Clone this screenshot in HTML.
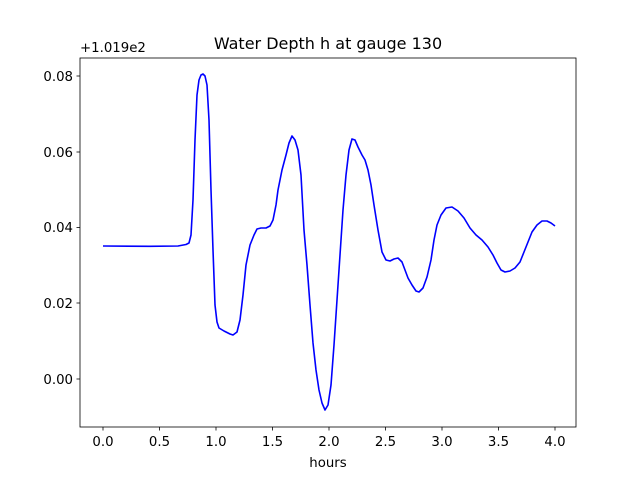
<!DOCTYPE html>
<html><head><meta charset="utf-8"><style>body{margin:0;background:#fff}svg{display:block}text{font-family:"DejaVu Sans","Liberation Sans",sans-serif;font-size:13.3px;fill:#000}</style></head>
<body>
<svg width="640" height="480" xmlns="http://www.w3.org/2000/svg">
<rect width="640" height="480" fill="#fff"/>
<polyline fill="none" stroke="#0000ff" stroke-width="1.6" stroke-linejoin="round" points="103,246 150,246.3 178,246 186,244.5 189,243 191,235 193,200 195,140 197,95 199,80 201,75 203,74 205,76 207,85 209,120 211,190 213,250 215,305 217,322 219,328 224,331 230,334 233,335 237,332 240,320 243,295 246,265 250,245 254,235 257,229 261,228 266,228 270,226 273,220 276,205 278,190 282,170 286,155 289,143 292,136 295,140 298,150 301,175 304,230 307,265 310,305 313,343 316,370 319,390 322,403 325,410 328,405 331,385 334,345 337,300 340,255 343,210 346,175 349,150 352,139 355,140 358,147 362,155 365,160 368,170 371,185 374,205 378,230 382,252 386,260 390,261 394,259 398,258 402,262 405,270 408,278 412,285 416,291 419,292 423,288 427,277 431,260 434,240 437,225 441,215 446,208 452,207 458,211 464,218 470,228 476,235 482,240 488,247 493,255 497,263 501,270 505,272 510,271 515,268 520,262 524,252 528,242 532,232 537,225 542,221 547,221 551,223 555,226"/>
<rect x="80" y="58" width="496" height="369" fill="none" stroke="#000" stroke-width="0.8"/>
<g stroke="#000" stroke-width="0.8">
<line x1="103" y1="427" x2="103" y2="430.5"/><line x1="159.5" y1="427" x2="159.5" y2="430.5"/><line x1="216" y1="427" x2="216" y2="430.5"/><line x1="272.5" y1="427" x2="272.5" y2="430.5"/><line x1="329" y1="427" x2="329" y2="430.5"/><line x1="385.5" y1="427" x2="385.5" y2="430.5"/><line x1="442" y1="427" x2="442" y2="430.5"/><line x1="498.5" y1="427" x2="498.5" y2="430.5"/><line x1="555" y1="427" x2="555" y2="430.5"/>
<line x1="76.5" y1="76" x2="80" y2="76"/><line x1="76.5" y1="152" x2="80" y2="152"/><line x1="76.5" y1="227.5" x2="80" y2="227.5"/><line x1="76.5" y1="303" x2="80" y2="303"/><line x1="76.5" y1="379" x2="80" y2="379"/>
</g>
<g text-anchor="middle">
<text x="103" y="446">0.0</text><text x="159.5" y="446">0.5</text><text x="216" y="446">1.0</text><text x="272.5" y="446">1.5</text><text x="329" y="446">2.0</text><text x="385.5" y="446">2.5</text><text x="442" y="446">3.0</text><text x="498.5" y="446">3.5</text><text x="555" y="446">4.0</text>
<text x="328" y="467">hours</text>
<text x="328" y="49" style="font-size:16px">Water Depth h at gauge 130</text>
</g>
<g text-anchor="end">
<text x="73" y="81">0.08</text><text x="73" y="157">0.06</text><text x="73" y="232">0.04</text><text x="73" y="308">0.02</text><text x="73" y="384">0.00</text>
</g>
<text x="80" y="52">+1.019e2</text>
</svg>
</body></html>
